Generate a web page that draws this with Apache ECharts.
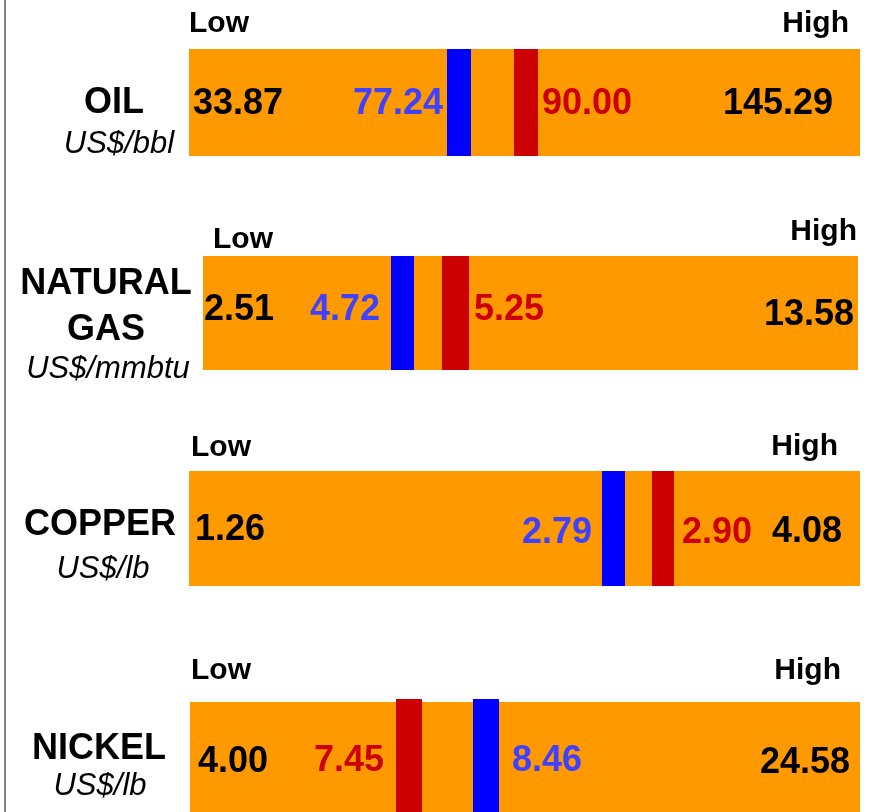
<!DOCTYPE html>
<html>
<head>
<meta charset="utf-8">
<script src="https://cdn.jsdelivr.net/npm/echarts@6/dist/echarts.min.js"></script>
<style>
html,body{margin:0;padding:0;background:#fff;}
#chart{width:871px;height:812px;}
</style>
</head>
<body>
<div id="chart"></div>
<script>
// ---- data ----
const commodities = ['OIL', 'NATURAL GAS', 'COPPER', 'NICKEL'];
const units = ['US$/bbl', 'US$/mmbtu', 'US$/lb', 'US$/lb'];
const lowValues = [33.87, 2.51, 1.26, 4.00];
const highValues = [145.29, 13.58, 4.08, 24.58];
const blueValues = [77.24, 4.72, 2.79, 8.46];
const redValues = [90.00, 5.25, 2.90, 7.45];
const headerLabels = ['Low', 'High'];

// ---- layout / style (not data) ----
const FONT = '"Liberation Sans", Arial, Helvetica, sans-serif';
const ORANGE = '#ff9900';
const BLUE = '#0000ff', RED = '#cc0000';
const BLUE_TXT = '#4040ff', RED_TXT = '#cc0000';
const TDY = 3; // baseline correction for text vertical centring
const layout = [
  {left:189, top:49, width:671, height:107, axisMin:25.82, axisMax:153.61,
   blueW:24, redW:24, blueSide:'left', blueGap:4, redSide:'right', redGap:4, dy:-1,
   nameX:114, nameY:100, nameLH:46, unitX:119, unitY:141,
   lowHdrX:189, lowHdrY:21, highHdrX:849, highHdrY:21,
   lowX:193, lowY:101.5, highX:833, highY:101.5},
  {left:203, top:256, width:655, height:114, axisMin:2.725, axisMax:9.275,
   blueW:23, redW:27, blueSide:'left', blueGap:11, redSide:'right', redGap:5, dy:-5.5,
   nameX:106, nameY:304, nameLH:46, unitX:108, unitY:366,
   lowHdrX:213, lowHdrY:237, highHdrX:857, highHdrY:229,
   lowX:204, lowY:307.5, highX:854, highY:312},
  {left:189, top:471, width:671, height:115, axisMin:1.8467, axisMax:3.3378,
   blueW:23, redW:22, blueSide:'left', blueGap:10, redSide:'right', redGap:8, dy:2,
   nameX:100, nameY:522, nameLH:46, unitX:103, unitY:566,
   lowHdrX:191, lowHdrY:445, highHdrX:838, highHdrY:444,
   lowX:195, lowY:527, highX:842, highY:529.5},
  {left:190, top:702, width:670, height:116, axisMin:4.577, axisMax:13.366,
   blueW:26, redW:26, blueSide:'right', blueGap:13, redSide:'left', redGap:12, dy:1.5,
   nameX:99, nameY:746, nameLH:46, unitX:100, unitY:783,
   lowHdrX:191, lowHdrY:668, highHdrX:841, highHdrY:668,
   lowX:198, lowY:759.5, highX:850, highY:760}
];

const grids = [], xAxes = [], yAxes = [], series = [], graphics = [];

graphics.push({type:'line', shape:{x1:5, y1:0, x2:5, y2:812}, style:{stroke:'#808080', lineWidth:2}, silent:true});

commodities.forEach((name, i) => {
  const L = layout[i];
  grids.push({left:L.left, top:L.top, width:L.width, height:L.height, show:true,
    backgroundColor:ORANGE, borderWidth:0, containLabel:false});
  xAxes.push({type:'value', gridIndex:i, min:L.axisMin, max:L.axisMax, show:false});
  yAxes.push({type:'value', gridIndex:i, min:0, max:1, show:false});

  const mk = (val, color, txtColor, w, side, gap) => ({
    type:'scatter', xAxisIndex:i, yAxisIndex:i, silent:true, clip:false,
    symbol:'rect', symbolSize:[w, L.height],
    itemStyle:{color:color, opacity:1},
    data:[[val, 0.5]],
    label:{show:true, position:side, distance:gap, offset:[0, L.dy + TDY],
      formatter:(p) => p.value[0].toFixed(2),
      fontSize:36, fontWeight:'bold', fontFamily:FONT, color:txtColor},
    emphasis:{disabled:true}
  });
  series.push(mk(blueValues[i], BLUE, BLUE_TXT, L.blueW, L.blueSide, L.blueGap));
  series.push(mk(redValues[i], RED, RED_TXT, L.redW, L.redSide, L.redGap));

  const txt = (x, y, text, font, align, z) => ({type:'text', x:x, y:y + TDY, silent:true, z:z || 5,
    style:{text:text, font:font, fill:'#000', textAlign:align, textVerticalAlign:'middle', lineHeight:L.nameLH}});

  graphics.push(txt(L.nameX, L.nameY, name.replace(' ', '\n'), 'bold 36px ' + FONT, 'center'));
  graphics.push(txt(L.unitX, L.unitY, units[i], 'italic 31px ' + FONT, 'center'));
  graphics.push(txt(L.lowHdrX, L.lowHdrY, headerLabels[0], 'bold 30px ' + FONT, 'left'));
  graphics.push(txt(L.highHdrX, L.highHdrY, headerLabels[1], 'bold 30px ' + FONT, 'right'));
  graphics.push(txt(L.lowX, L.lowY, lowValues[i].toFixed(2), 'bold 36px ' + FONT, 'left', 10));
  graphics.push(txt(L.highX, L.highY, highValues[i].toFixed(2), 'bold 36px ' + FONT, 'right', 10));
});

const chart = echarts.init(document.getElementById('chart'), null, {renderer:'canvas'});
chart.setOption({
  animation:false,
  backgroundColor:'#ffffff',
  grid:grids, xAxis:xAxes, yAxis:yAxes, series:series,
  graphic:graphics
});
</script>
</body>
</html>
